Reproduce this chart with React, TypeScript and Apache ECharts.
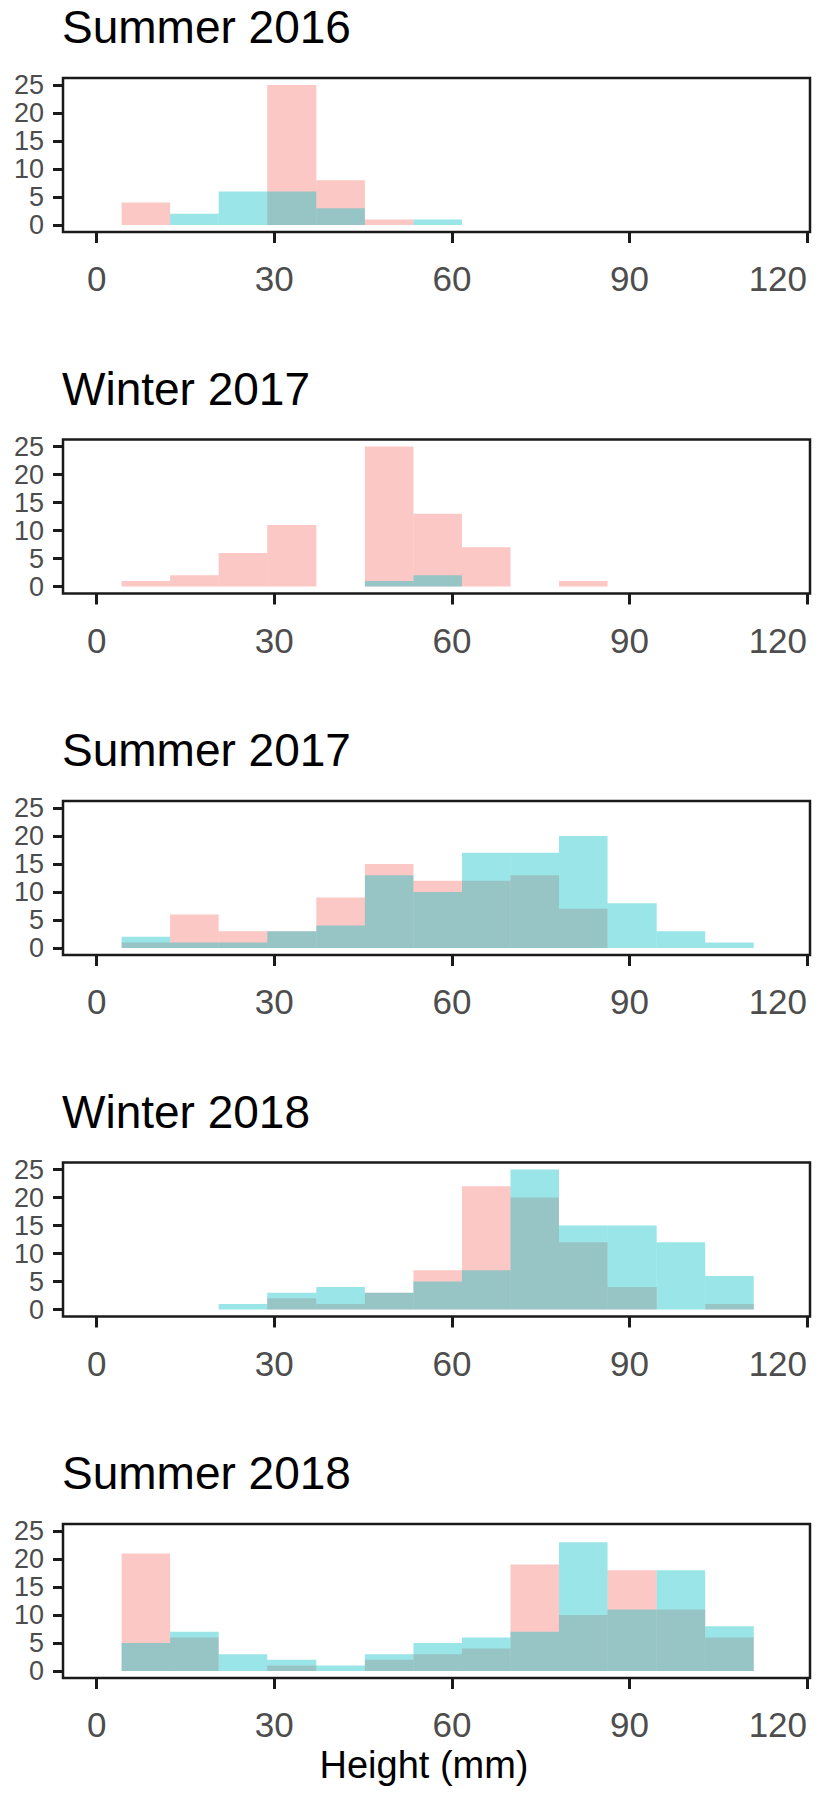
import React, { useEffect, useRef } from 'react';
import * as echarts from 'echarts';

// ---- Data ----
const panelTitles = ['Summer 2016', 'Winter 2017', 'Summer 2017', 'Winter 2018', 'Summer 2018'];

// histogram bin edges (mm)
const binEdges = [4.2, 12.4, 20.6, 28.8, 37.1, 45.3, 53.5, 61.7, 69.9, 78.1, 86.3, 94.6, 102.8, 111.0];

// counts per bin, group 1 (pink)
const pinkSummer2016 = [4, 0, 0, 25, 8, 1, 0, 0, 0, 0, 0, 0, 0];
const pinkWinter2017 = [1, 2, 6, 11, 0, 25, 13, 7, 0, 1, 0, 0, 0];
const pinkSummer2017 = [1, 6, 3, 3, 9, 15, 12, 12, 13, 7, 0, 0, 0];
const pinkWinter2018 = [0, 0, 0, 2, 1, 3, 7, 22, 20, 12, 4, 0, 1];
const pinkSummer2018 = [21, 6, 0, 1, 0, 2, 3, 4, 19, 10, 18, 11, 6];

// counts per bin, group 2 (cyan)
const cyanSummer2016 = [0, 2, 6, 6, 3, 0, 1, 0, 0, 0, 0, 0, 0];
const cyanWinter2017 = [0, 0, 0, 0, 0, 1, 2, 0, 0, 0, 0, 0, 0];
const cyanSummer2017 = [2, 1, 1, 3, 4, 13, 10, 17, 17, 20, 8, 3, 1];
const cyanWinter2018 = [0, 0, 1, 3, 4, 3, 5, 7, 25, 15, 15, 12, 6];
const cyanSummer2018 = [5, 7, 3, 2, 1, 3, 5, 6, 7, 23, 11, 18, 8];

const pinkSets = [pinkSummer2016, pinkWinter2017, pinkSummer2017, pinkWinter2018, pinkSummer2018];
const cyanSets = [cyanSummer2016, cyanWinter2017, cyanSummer2017, cyanWinter2018, cyanSummer2018];

const xTicks = [0, 30, 60, 90, 120];
const yTicks = [0, 5, 10, 15, 20, 25];
const xAxisTitle = 'Height (mm)';

// ---- Styling / layout ----
const FONT = 'Liberation Sans, Arial, Helvetica, sans-serif';
const PINK = 'rgba(248,118,109,0.4)';
const CYAN = 'rgba(0,191,196,0.4)';
const PANEL_STEP = 361.5;
const GRID_TOP = 78;
const GRID_HEIGHT = 154;
const GRID_LEFT = 63;
const GRID_WIDTH = 747;
const X_MIN = -5.7;
const X_MAX = 120.5;
const Y_MIN = -1.25;
const Y_MAX = 26.25;
const LINE = '#1a1a1a';
const LABEL = '#4d4d4d';

function toBins(counts: number[]) {
  const out: number[][] = [];
  counts.forEach((c, k) => {
    if (c > 0) out.push([binEdges[k], binEdges[k + 1], c]);
  });
  return out;
}

function makeRender(color: string) {
  return (params: any, api: any) => {
    const x0 = api.value(0);
    const x1 = api.value(1);
    const c = api.value(2);
    const p0 = api.coord([x0, 0]);
    const p1 = api.coord([x1, c]);
    return {
      type: 'rect',
      shape: { x: p0[0], y: p1[1], width: p1[0] - p0[0], height: p0[1] - p1[1] },
      style: { fill: color },
    };
  };
}

export default function App() {
  const ref = useRef<HTMLDivElement>(null);

  useEffect(() => {
    document.body.style.margin = '0';
    if (!ref.current) return;
    const chart = echarts.init(ref.current, null, { renderer: 'svg' });

    const grids: any[] = [];
    const xAxes: any[] = [];
    const yAxes: any[] = [];
    const series: any[] = [];
    const titles: any[] = [];

    panelTitles.forEach((name, i) => {
      const top = GRID_TOP + i * PANEL_STEP;
      titles.push({
        text: name,
        left: 62,
        top: 4 + i * PANEL_STEP,
        padding: 0,
        textStyle: { fontSize: 46, fontWeight: 'normal', color: '#000', fontFamily: FONT },
      });
      grids.push({
        left: GRID_LEFT,
        top,
        width: GRID_WIDTH,
        height: GRID_HEIGHT,
        show: true,
        borderColor: LINE,
        borderWidth: 2.5,
        backgroundColor: 'transparent',
        containLabel: false,
      });
      xAxes.push({
        type: 'value',
        gridIndex: i,
        min: X_MIN,
        max: X_MAX,
        axisLine: { show: false, onZero: false },
        splitLine: { show: false },
        axisTick: { show: true, length: 11, lineStyle: { color: LINE, width: 3 }, customValues: xTicks },
        axisLabel: {
          customValues: xTicks,
          margin: 29,
          fontSize: 35,
          lineHeight: 35,
          color: LABEL,
          fontFamily: FONT,
          showMinLabel: true,
          showMaxLabel: true,
          alignMaxLabel: 'right',
        },
      });
      yAxes.push({
        type: 'value',
        gridIndex: i,
        min: Y_MIN,
        max: Y_MAX,
        axisLine: { show: false, onZero: false },
        splitLine: { show: false },
        axisTick: { show: true, length: 10, lineStyle: { color: LINE, width: 3 }, customValues: yTicks },
        axisLabel: {
          customValues: yTicks,
          margin: 19,
          fontSize: 27,
          lineHeight: 27,
          color: LABEL,
          fontFamily: FONT,
          showMinLabel: true,
          showMaxLabel: true,
          hideOverlap: false,
        },
      });
      series.push({
        type: 'custom',
        name: name + ' A',
        xAxisIndex: i,
        yAxisIndex: i,
        renderItem: makeRender(PINK),
        encode: { x: [0, 1], y: 2 },
        data: toBins(pinkSets[i]),
        z: 2,
      });
      series.push({
        type: 'custom',
        name: name + ' B',
        xAxisIndex: i,
        yAxisIndex: i,
        renderItem: makeRender(CYAN),
        encode: { x: [0, 1], y: 2 },
        data: toBins(cyanSets[i]),
        z: 3,
      });
    });

    chart.setOption({
      animation: false,
      backgroundColor: '#fff',
      title: titles,
      grid: grids,
      xAxis: xAxes,
      yAxis: yAxes,
      series,
      graphic: [
        {
          type: 'text',
          x: 424,
          y: 1765,
          style: {
            text: xAxisTitle,
            font: '38px ' + FONT,
            fill: '#000',
            textAlign: 'center',
            textVerticalAlign: 'middle',
          },
        },
      ],
    });

    return () => chart.dispose();
  }, []);

  return <div ref={ref} style={{ width: 827, height: 1793 }} />;
}
